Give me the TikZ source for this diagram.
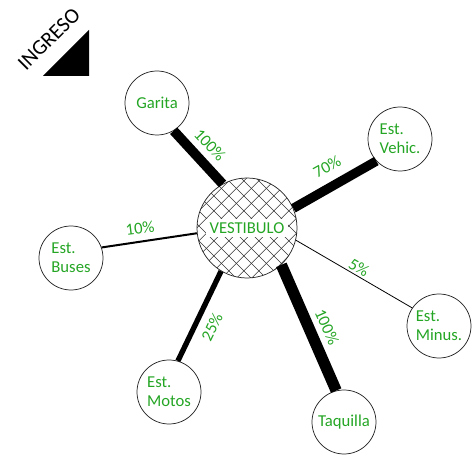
\documentclass[tikz,border=0pt]{standalone}
\usepackage{fontspec}
\setmainfont{Carlito}
\definecolor{pctgreen}{RGB}{36,165,36}
\setlength{\fboxsep}{2.5pt}
\tikzset{
  room/.style={circle,draw=black!85,line width=.55pt,minimum size=48pt,
    inner sep=0pt,align=left,text=pctgreen,font=\fontsize{12.5}{14}\selectfont},
  hall/.style={room,minimum size=75pt,path picture={
      \begin{scope}[shift={(path picture bounding box.center)}]
        \foreach \k in {-8,...,8}{
          \draw[line width=.4pt,black!80] (\k*15-70,-70) -- (\k*15+70,70);
          \draw[line width=.4pt,black!80] (\k*15-70,70) -- (\k*15+70,-70);
        }
      \end{scope}}},
  pct/.style={text=pctgreen,inner sep=0pt,font=\fontsize{12.5}{14}\selectfont},
  flow/.style={line width=#1,line cap=butt},
}
\begin{document}
\begin{tikzpicture}[x=0.75pt,y=-0.75pt]
    \useasboundingbox (0,0) rectangle (475,459);
    % Entrance mark.
    \node[rotate=45,font=\fontsize{16}{18}\selectfont,inner sep=0pt] (ing) at (49,39) {INGRESO};
    \fill (43,76) -- (89,76) -- (89,30) -- cycle;

    % Rooms.
    \node[hall] (vest) at (247,228) {\colorbox{white}{VESTIBULO}};
    \node[room] (gar) at (157,103) {Garita};
    \node[room] (veh) at (400,139) {Est.\\Vehic.};
    \node[room] (bus) at (71,258) {Est.\\Buses};
    \node[room] (min) at (439,326) {Est.\\Minus.};
    \node[room] (mot) at (169,392) {Est.\\Motos};
    \node[room] (taq) at (344,422) {Taquilla};

    % Flows.
    \draw[flow=7.3pt] (gar.-59) -- (vest.119);
    \draw[flow=7pt] (vest.23) -- (veh.223);
    \draw[flow=1.5pt] (bus.19) -- (vest.186);
    \draw[flow=.6pt] (vest.-14) -- (min.146);
    \draw[flow=4pt] (vest.-121) -- (mot.74);
    \draw[flow=8.5pt] (vest.-47) -- (taq.104);

    % Percentages.
    \node[pct,rotate=-47] (p1) at (210,145) {100\%};
    \node[pct,rotate=29] (p2) at (327,167) {70\%};
    \node[pct,rotate=7] (p3) at (140,228) {10\%};
    \node[pct,rotate=-30] (p4) at (359,268) {5\%};
    \node[pct,rotate=-66] (p5) at (327,327) {100\%};
    \node[pct,rotate=64] (p6) at (212,327) {25\%};
\end{tikzpicture}
\end{document}
